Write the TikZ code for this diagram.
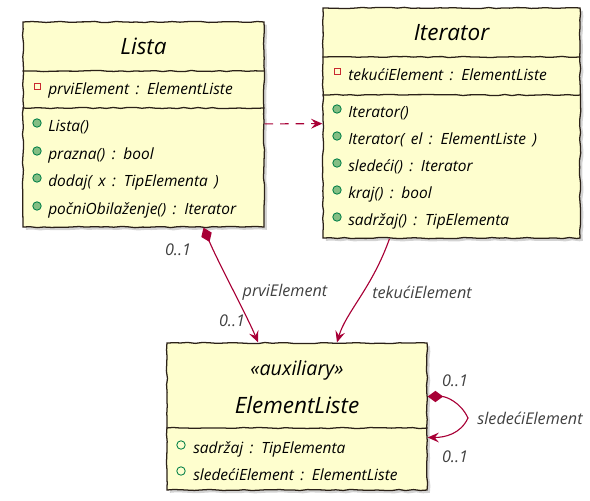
\documentclass[tikz,border=0pt]{standalone}
\usepackage{fontspec}
\setmainfont{Open Sans}[WordSpace=1.6]
\definecolor{ClassFill}{HTML}{FEFECE}
\definecolor{ClassBorder}{HTML}{2B2118}
\definecolor{LinkColor}{HTML}{A80036}
\definecolor{PublicColor}{HTML}{038048}
\definecolor{PublicFill}{HTML}{84BE84}
\definecolor{PrivateColor}{HTML}{C82930}
\usetikzlibrary{calc, arrows.meta, decorations.pathmorphing, shadows}

\tikzset{
  sketchy/.style={decorate, decoration={random steps, segment length=5pt, amplitude=0.45pt}},
  classbox/.style={draw=ClassBorder, fill=ClassFill, line width=0.9pt, sketchy,
    drop shadow={opacity=0.35, shadow xshift=2pt, shadow yshift=-2pt}, inner sep=0pt},
  divider/.style={draw=ClassBorder, line width=0.9pt, sketchy},
  classname/.style={inner sep=0pt, font=\itshape\fontsize{16}{18}\selectfont},
  member/.style={anchor=west, inner sep=0pt, font=\itshape\fontsize{11}{13}\selectfont},
  link/.style={draw=LinkColor, line width=0.8pt},
  linklabel/.style={inner sep=0pt, text=black!75, font=\itshape\fontsize{11.5}{13}\selectfont},
  pubmethod/.style={fill=PublicFill, draw=PublicColor, line width=0.6pt},
  pubfield/.style={draw=PublicColor, line width=0.6pt},
  privfield/.style={draw=PrivateColor, line width=0.6pt}
}

\begin{document}
\begin{tikzpicture}[x=0.025cm, y=-0.025cm, >={Stealth[length=8pt, width=7pt, inset=3pt]}]
\useasboundingbox (0,0) rectangle (590,500);

% Klase
\node[classbox, minimum width=6.025cm, minimum height=5.125cm] (lista) at (143.5,124.5) {};
\node[classbox, minimum width=6.425cm, minimum height=5.75cm] (iterator) at (451.5,123) {};
\node[classbox, minimum width=6.5cm, minimum height=3.675cm] (elem) at (297,416.5) {};

% Pregrade
\draw[divider] (lista.west |- 0,71) -- (lista.east |- 0,71);
\draw[divider] (lista.west |- 0,108) -- (lista.east |- 0,108);
\draw[divider] (iterator.west |- 0,57) -- (iterator.east |- 0,57);
\draw[divider] (iterator.west |- 0,95) -- (iterator.east |- 0,95);
\draw[divider] (elem.west |- 0,428) -- (elem.east |- 0,428);

% Lista
\node[classname] (lista-name) at (lista.north |- 0,46) {Lista};
\draw[privfield] (34,83) rectangle (40,89);
\node[member] (lista-a1) at (48,90) {prviElement : ElementListe};
\filldraw[pubmethod] (37,123) circle (3pt);
\node[member] (lista-m1) at (48,127) {Lista()};
\filldraw[pubmethod] (37,151) circle (3pt);
\node[member] (lista-m2) at (48,155) {prazna() : bool};
\filldraw[pubmethod] (37,178) circle (3pt);
\node[member] (lista-m3) at (48,182) {dodaj( x : TipElementa )};
\filldraw[pubmethod] (37,206) circle (3pt);
\node[member] (lista-m4) at (48,210) {počniObilaženje() : Iterator};

% Iterator
\node[classname] (iterator-name) at (iterator.north |- 0,33) {Iterator};
\draw[privfield] (334,68) rectangle (340,74);
\node[member] (iterator-a1) at (348,75) {tekućiElement : ElementListe};
\filldraw[pubmethod] (337,109) circle (3pt);
\node[member] (iterator-m1) at (348,113) {Iterator()};
\filldraw[pubmethod] (337,136) circle (3pt);
\node[member] (iterator-m2) at (348,140) {Iterator( el : ElementListe )};
\filldraw[pubmethod] (337,163) circle (3pt);
\node[member] (iterator-m3) at (348,167) {sledeći() : Iterator};
\filldraw[pubmethod] (337,190) circle (3pt);
\node[member] (iterator-m4) at (348,194) {kraj() : bool};
\filldraw[pubmethod] (337,217) circle (3pt);
\node[member] (iterator-m5) at (348,221) {sadržaj() : TipElementa};

% ElementListe
\node[classname, font=\itshape\fontsize{14}{16}\selectfont] (elem-stereo) at (elem.north |- 0,370) {«auxiliary»};
\node[classname] (elem-name) at (elem.north |- 0,405) {ElementListe};
\draw[pubfield] (181,445) circle (3pt);
\node[member] (elem-a1) at (193,449) {sadržaj : TipElementa};
\draw[pubfield] (181,471) circle (3pt);
\node[member] (elem-a2) at (193,475) {sledećiElement : ElementListe};

% Veze
\draw[link, dashed, dash pattern=on 6pt off 5pt, ->] (lista) -- (iterator);
\draw[link, {Diamond[length=11pt, width=8pt]}->]
  ($(lista.south)+(60,0)$) .. controls (218,262) and (248,318) .. ($(elem.north)+(-39,0)$);
\draw[link, ->]
  ($(iterator.south)+(-62,0)$) .. controls (372,288) and (346,312) .. ($(elem.north)+(40,0)$);
\coordinate (loop) at (468,418);
\draw[link, {Diamond[length=11pt, width=8pt]}->]
  ($(elem.east)+(0,-20)$) to[out=0, in=115] (loop) to[out=-115, in=0] ($(elem.east)+(0,21)$);

% Natpisi
\node[linklabel] (mult-a) at (178,250) {0..1};
\node[linklabel] (lbl-prvi) at (285,292) {prviElement};
\node[linklabel] (mult-b) at (232,321) {0..1};
\node[linklabel] (lbl-tekuci) at (422,292) {tekućiElement};
\node[linklabel] (mult-c) at (455,381) {0..1};
\node[linklabel] (lbl-sledeci) at (530,418) {sledećiElement};
\node[linklabel] (mult-d) at (455,457) {0..1};

\end{tikzpicture}
\end{document}
